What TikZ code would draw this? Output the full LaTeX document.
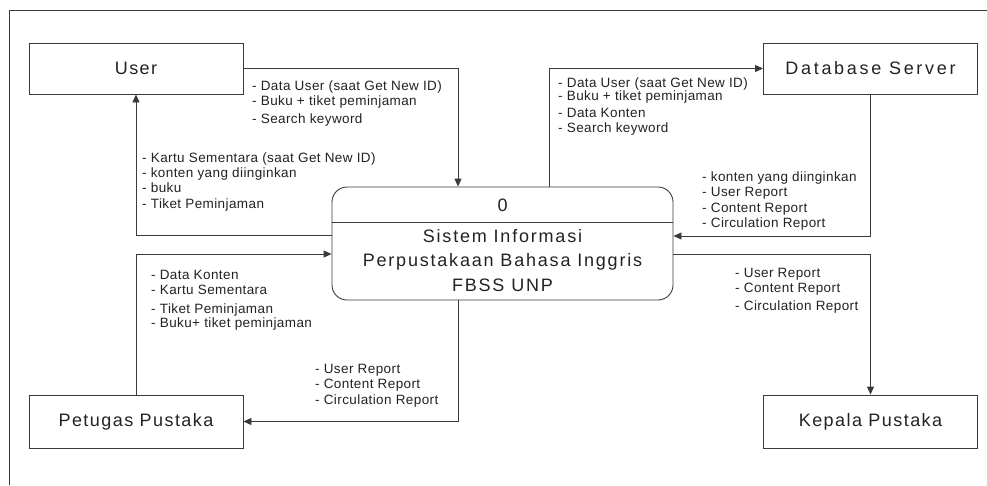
\documentclass[tikz,border=0pt]{standalone}
\usepackage{fontspec}
\setmainfont{Liberation Sans}
\newfontfamily\labf[LetterSpace=3]{Liberation Sans}
\newfontfamily\bigf[LetterSpace=8]{Liberation Sans}
\newfontfamily\bigw[LetterSpace=15]{Liberation Sans}
\newfontfamily\procf[LetterSpace=10]{Liberation Sans}
\usetikzlibrary{arrows.meta}
\definecolor{ln}{HTML}{3A3A3A}
\definecolor{tx}{HTML}{222222}
\tikzset{
  ent/.style={draw=ln, line width=0.9pt, minimum width=214pt, minimum height=51pt, inner sep=0pt, text=tx, font=\bigf\fontsize{18}{20}\selectfont},
  procbox/.style={draw=ln, line width=0.9pt, rounded corners=15pt, minimum width=341pt, minimum height=113pt, inner sep=0pt},
  ptxt/.style={text=tx, inner sep=0pt, anchor=base, font=\procf\fontsize{18}{20}\selectfont},
  lab/.style={text=tx, inner sep=0pt, anchor=base west, align=left, font=\labf\fontsize{13.5}{15}\selectfont},
  flow/.style={draw=ln, line width=0.9pt, -{Triangle[length=8pt,width=7pt]}},
}
\begin{document}
\begin{tikzpicture}[x=1pt,y=-1pt]
\useasboundingbox (0,0) rectangle (987,485);
% frame
\coordinate (f0) at (9,10);
\coordinate (f1) at (987,10);
\coordinate (f2) at (9,485);
\draw[ln, line width=0.9pt] (f1) -- (f0) -- (f2);
% entities
\node[ent] (user) at (136,68.5) {User};
\node[ent] (db) at (870.5,68.5) {\bigw Database Server};
\node[ent, minimum height=53pt] (pet) at (136,421.5) {Petugas Pustaka};
\node[ent, minimum height=53pt] (kep) at (870.5,421.5) {Kepala Pustaka};
% process
\node[procbox] (proc) at (502.5,243.5) {};
\draw[ln, line width=0.9pt] (proc.west |- 0,222) -- (proc.east |- 0,222);
\node[ptxt] (pnum) at (502.5,211) {0};
\node[ptxt] (p1) at (502.5,242) {Sistem Informasi};
\node[ptxt] (p2) at (502.5,266) {Perpustakaan Bahasa Inggris};
\node[ptxt] (p3) at (502.5,291) {FBSS UNP};
% flows
\draw[flow] (user.east) -| ([xshift=-44.5pt]proc.north);
\draw[flow] ([yshift=8.5pt]proc.west) -| (user.south);
\draw[flow] ([xshift=46.5pt]proc.north) |- (db.west);
\draw[flow] (db.south) |- ([yshift=7.5pt]proc.east);
\draw[flow] (pet.north) |- ([yshift=-10.5pt]proc.west);
\draw[flow] ([xshift=-44.5pt]proc.south) |- (pet.east);
\draw[flow] ([yshift=-10.5pt]proc.east) -| (kep.north);
% labels (anchor at baseline of last line)
\node[lab] (l1) at (252,123) {- Data User (saat Get New ID)\\- Buku + tiket peminjaman\\[3pt]- Search keyword};
\node[lab] (l2) at (142,208) {- Kartu Sementara (saat Get New ID)\\- konten yang diinginkan\\- buku\\[1pt]- Tiket Peminjaman};
\node[lab] (l3) at (558,132) {- Data User (saat Get New ID)\\[-2pt]- Buku + tiket peminjaman\\[2pt]- Data Konten\\- Search keyword};
\node[lab] (l4) at (702,227.5) {- konten yang diinginkan\\[0.5pt]- User Report\\[0.5pt]- Content Report\\[0.5pt]- Circulation Report};
\node[lab] (l5) at (151,327) {- Data Konten\\- Kartu Sementara\\[4pt]- Tiket Peminjaman\\[-1pt]- Buku+ tiket peminjaman};
\node[lab] (l6) at (315,404) {- User Report\\- Content Report\\[1pt]- Circulation Report};
\node[lab] (l7) at (735,310) {- User Report\\- Content Report\\[3pt]- Circulation Report};
\end{tikzpicture}
\end{document}
